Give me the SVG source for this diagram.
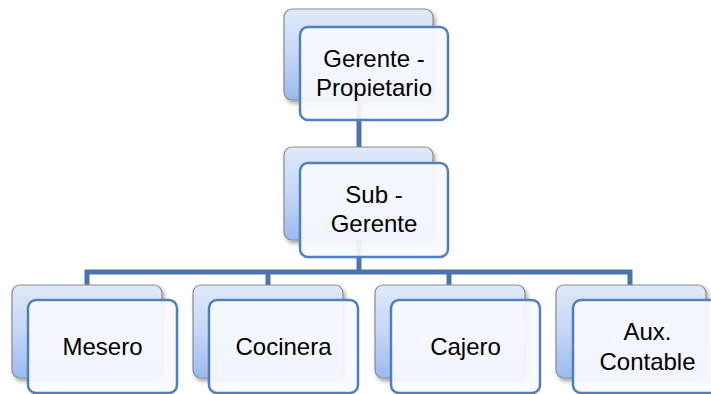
<svg xmlns="http://www.w3.org/2000/svg" width="711" height="394" viewBox="0 0 711 394">
<defs>
<linearGradient id="bg" x1="0" y1="0" x2="0" y2="1">
<stop offset="0" stop-color="#e0e9f9"/>
<stop offset="0.5" stop-color="#c6d7f6"/>
<stop offset="1" stop-color="#9bb9ef"/>
</linearGradient>
<filter id="sh" x="-10%" y="-10%" width="130%" height="130%">
<feGaussianBlur in="SourceAlpha" stdDeviation="2"/>
<feOffset dx="2" dy="3" result="b"/>
<feComponentTransfer><feFuncA type="linear" slope="0.35"/></feComponentTransfer>
<feMerge><feMergeNode/><feMergeNode in="SourceGraphic"/></feMerge>
</filter>
</defs>
<style>
.back{fill:url(#bg);stroke:#8c8c8c;stroke-width:1.2;filter:url(#sh)}
.front{fill:#f8faff;fill-opacity:0.92;stroke:#4f7fbd;stroke-width:2.5}
.t{font-family:"Liberation Sans",Arial,sans-serif;font-size:24px;fill:#000;text-anchor:middle}
.c{fill:none;stroke:#4a74aa;stroke-width:5}
</style>
<g id="connectors">
<path class="c" d="M359 100 V150"/>
<path class="c" d="M359 240 V272"/>
<path class="c" d="M87 287 V272 H630 V287"/>
<path class="c" d="M268 272 V287"/>
<path class="c" d="M449 272 V287"/>
</g>
<g id="gerente">
<rect class="back" x="284" y="9" width="149" height="91" rx="8"/>
<rect class="front" x="300" y="27" width="148" height="93" rx="8"/>
<text class="t" x="374" y="67">Gerente -</text>
<text class="t" x="374" y="96">Propietario</text>
</g>
<g id="subgerente">
<rect class="back" x="284" y="147" width="149" height="93" rx="8"/>
<rect class="front" x="300" y="163" width="148" height="94" rx="8"/>
<text class="t" x="374" y="203">Sub -</text>
<text class="t" x="374" y="232">Gerente</text>
</g>
<g id="mesero">
<rect class="back" x="12" y="285" width="150" height="93" rx="8"/>
<rect class="front" x="28" y="300" width="149" height="93" rx="8"/>
<text class="t" x="102.5" y="355">Mesero</text>
</g>
<g id="cocinera">
<rect class="back" x="193" y="285" width="150" height="93" rx="8"/>
<rect class="front" x="209" y="300" width="149" height="93" rx="8"/>
<text class="t" x="283.5" y="355">Cocinera</text>
</g>
<g id="cajero">
<rect class="back" x="375" y="285" width="150" height="93" rx="8"/>
<rect class="front" x="391" y="300" width="149" height="93" rx="8"/>
<text class="t" x="465.5" y="355">Cajero</text>
</g>
<g id="aux">
<rect class="back" x="556" y="285" width="150" height="93" rx="8"/>
<rect class="front" x="573" y="300" width="149" height="93" rx="8"/>
<text class="t" x="647.5" y="340">Aux.</text>
<text class="t" x="647.5" y="370">Contable</text>
</g>
</svg>
